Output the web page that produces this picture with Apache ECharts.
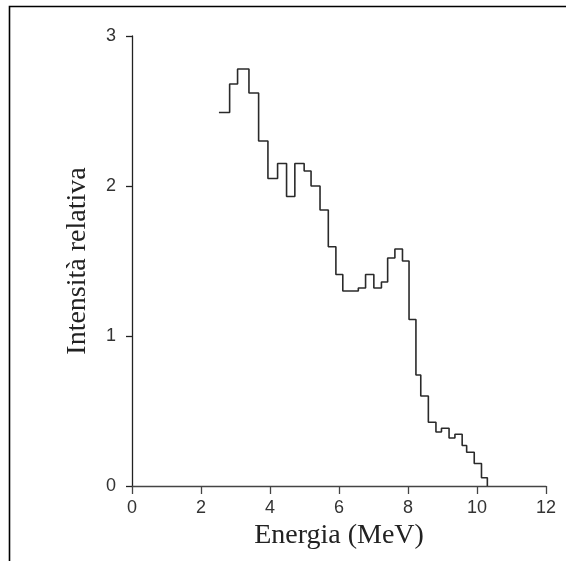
<!DOCTYPE html>
<html>
<head>
<meta charset="utf-8">
<script src="https://cdn.jsdelivr.net/npm/echarts@6/dist/echarts.min.js"></script>
<style>
html,body{margin:0;padding:0;background:#fff;}
#c{width:566px;height:561px;}
</style>
</head>
<body>
<div id="c"></div>
<script>
// Bin left edges (MeV)
var binEdges = [2.52, 2.83, 3.06, 3.39, 3.67, 3.94, 4.22, 4.48, 4.72, 4.99, 5.19, 5.45, 5.69, 5.91, 6.11, 6.56, 6.77, 7.01, 7.23, 7.41, 7.62, 7.84, 8.03, 8.23, 8.37, 8.59, 8.81, 8.97, 9.19, 9.36, 9.57, 9.70, 9.92, 10.13];
var lastEdge = 10.30;
// Relative intensity of each bin
var intensities = [2.49, 2.68, 2.78, 2.62, 2.30, 2.05, 2.15, 1.93, 2.15, 2.10, 2.00, 1.84, 1.595, 1.41, 1.30, 1.32, 1.41, 1.32, 1.36, 1.52, 1.58, 1.50, 1.11, 0.74, 0.60, 0.425, 0.36, 0.385, 0.32, 0.345, 0.27, 0.225, 0.15, 0.055];
var xTicks = [0, 2, 4, 6, 8, 10, 12];
var yTicks = [0, 1, 2, 3];
var xTitle = 'Energia (MeV)';
var yTitle = 'Intensità relativa';

var stepData = binEdges.map(function (e, i) { return [e, intensities[i]]; });
stepData.push([lastEdge, 0]);

var chart = echarts.init(document.getElementById('c'), null, {renderer: 'canvas'});
chart.setOption({
  animation: false,
  backgroundColor: '#fff',
  grid: {left: 132, right: 20, top: 36, bottom: 75, containLabel: false},
  graphic: [
    {type: 'polyline', shape: {points: [[9.5, 561], [9.5, 6.5], [566, 6.5]]},
      style: {stroke: '#000', lineWidth: 1.6, fill: null}, silent: true}
  ],
  xAxis: {
    type: 'value',
    min: xTicks[0], max: xTicks[xTicks.length - 1], interval: 2,
    name: xTitle, nameLocation: 'middle', nameGap: 26,
    nameTextStyle: {fontFamily: 'Liberation Serif', fontSize: 28, color: '#222'},
    axisLine: {show: true, onZero: false, lineStyle: {color: '#444', width: 1.3}},
    axisTick: {show: true, inside: false, length: 8, lineStyle: {color: '#444', width: 1.3}},
    axisLabel: {margin: 13, fontFamily: 'Liberation Sans', fontSize: 18, color: '#333'},
    splitLine: {show: false}
  },
  yAxis: {
    type: 'value',
    min: yTicks[0], max: yTicks[yTicks.length - 1], interval: 1,
    name: yTitle, nameLocation: 'middle', nameGap: 40,
    nameTextStyle: {fontFamily: 'Liberation Serif', fontSize: 28, color: '#222'},
    axisLine: {show: true, onZero: false, lineStyle: {color: '#222', width: 1.3}},
    axisTick: {show: true, inside: false, length: 6, lineStyle: {color: '#222', width: 1.3}},
    axisLabel: {margin: 16, fontFamily: 'Liberation Sans', fontSize: 18, color: '#333'},
    splitLine: {show: false}
  },
  series: [{
    type: 'line',
    step: 'end',
    data: stepData,
    symbol: 'none',
    lineStyle: {color: '#2a2a2a', width: 1.6},
    clip: false
  }]
});
</script>
</body>
</html>
